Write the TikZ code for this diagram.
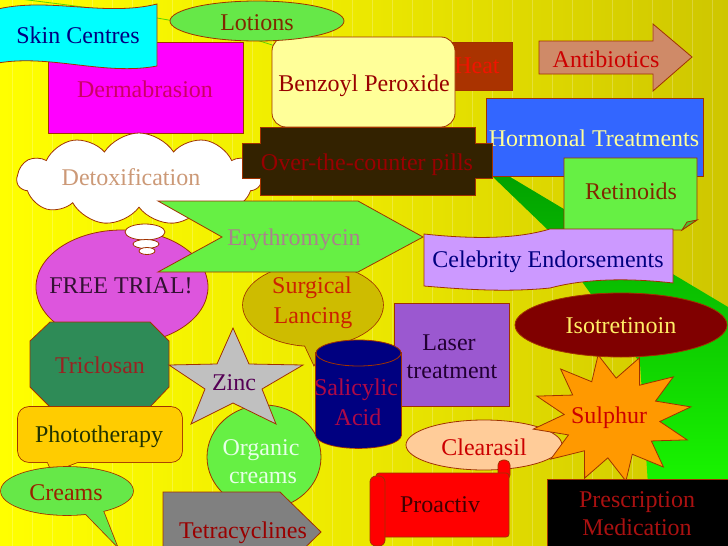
\documentclass[tikz,border=0pt]{standalone}
\usepackage{fontspec}
\setmainfont{Liberation Serif}
\usetikzlibrary{shapes.symbols}
\definecolor{bgl}{RGB}{255,255,0}
\definecolor{bgm}{RGB}{236,232,0}
\definecolor{bgr}{RGB}{206,198,0}
\definecolor{gdark}{RGB}{0,155,0}
\definecolor{gbright}{RGB}{25,245,0}
\definecolor{gline}{RGB}{90,215,0}
\definecolor{edge}{RGB}{160,50,0}
\definecolor{cCyan}{RGB}{0,255,255}
\definecolor{tSkin}{RGB}{0,0,128}
\definecolor{cMag}{RGB}{255,0,255}
\definecolor{tDerm}{RGB}{204,0,102}
\definecolor{cLot}{RGB}{102,232,72}
\definecolor{tBrown}{RGB}{128,40,0}
\definecolor{cHeat}{RGB}{170,51,0}
\definecolor{tHeat}{RGB}{240,20,0}
\definecolor{cBenz}{RGB}{255,255,153}
\definecolor{tDark}{RGB}{153,0,0}
\definecolor{cAnti}{RGB}{207,138,104}
\definecolor{tRed}{RGB}{204,0,0}
\definecolor{cHorm}{RGB}{51,102,255}
\definecolor{tPale}{RGB}{255,255,153}
\definecolor{cOtc}{RGB}{51,34,0}
\definecolor{cGreen}{RGB}{102,240,68}
\definecolor{cFold}{RGB}{80,190,50}
\definecolor{tDetox}{RGB}{204,153,119}
\definecolor{tEry}{RGB}{170,130,140}
\definecolor{cCeleb}{RGB}{204,153,255}
\definecolor{cFree}{RGB}{221,85,221}
\definecolor{tFree}{RGB}{51,17,51}
\definecolor{cLan}{RGB}{206,188,0}
\definecolor{tLan}{RGB}{204,34,0}
\definecolor{cLaser}{RGB}{155,88,208}
\definecolor{tLaser}{RGB}{34,0,51}
\definecolor{cIso}{RGB}{128,0,0}
\definecolor{tIso}{RGB}{255,238,102}
\definecolor{cTri}{RGB}{46,139,87}
\definecolor{tTri}{RGB}{153,34,34}
\definecolor{cZinc}{RGB}{192,192,192}
\definecolor{tZinc}{RGB}{85,0,85}
\definecolor{cSal}{RGB}{0,0,128}
\definecolor{tSal}{RGB}{175,10,70}
\definecolor{cPhoto}{RGB}{255,204,0}
\definecolor{tPhoto}{RGB}{34,51,0}
\definecolor{tCream}{RGB}{153,34,0}
\definecolor{tOrg}{RGB}{230,255,230}
\definecolor{cTetra}{RGB}{128,128,128}
\definecolor{cClear}{RGB}{255,204,153}
\definecolor{cPro}{RGB}{255,0,0}
\definecolor{tPro}{RGB}{64,0,0}
\definecolor{cSul}{RGB}{255,153,0}
\definecolor{tPres}{RGB}{170,17,17}
\begin{document}
\begin{tikzpicture}[x=1pt,y=-1pt,
  lbl/.style={font=\fontsize{24}{28}\selectfont, inner sep=0pt, anchor=base},
  shp/.style={draw=edge, line width=0.8pt},
  uline/.style={draw=edge, line width=1.6pt}]
\useasboundingbox (0,0) rectangle (728,546);
\clip (0,0) rectangle (728,546);
% background
\shade[left color=bgl, right color=bgr, middle color=bgm] (0,0) rectangle (728,546);
\foreach \i in {12,32,...,720} \draw[white, opacity=0.22, line width=0.6pt] (\i,0) -- (\i,546);
% green band
\shade[top color=gdark, bottom color=gbright] (465,150) -- (728,307) -- (728,485) -- (648,485) -- (640,363) -- (583,283) -- (548,230) -- cycle;
\draw[gline, line width=0.8pt] (20,-1) .. controls (90,8) and (200,20) .. (275,46);
% Dermabrasion
\filldraw[shp, fill=cMag] (48,42) rectangle (243,133);
\node[lbl, text=tDerm] (derm) at (145,97) {Dermabrasion};
% Skin Centres
\filldraw[shp, fill=cCyan] (-2,9) .. controls (50,-3) and (105,17) .. (157,4) -- (157,66) .. controls (105,76) and (50,54) .. (-2,63) -- cycle;
\node[lbl, text=tSkin] (skin) at (78,43) {Skin Centres};
% Heat
\filldraw[shp, fill=cHeat] (440,42) rectangle (512,90);
\node[lbl, text=tHeat] (heat) at (477,73) {Heat};
% Benzoyl Peroxide
\filldraw[shp, fill=cBenz, rounded corners=14pt] (272,37) rectangle (455,127);
\node[lbl, text=tDark] (benz) at (364,91) {Benzoyl Peroxide};
% Lotions
\filldraw[shp, fill=cLot] (257,21) ellipse [x radius=87, y radius=20];
\node[lbl, text=tBrown] (lot) at (257,30) {Lotions};
% Antibiotics
\filldraw[shp, fill=cAnti] (539,41) -- (653,41) -- (653,24) -- (692,57) -- (653,91) -- (653,74) -- (539,74) -- cycle;
\node[lbl, text=tRed] (anti) at (606,67) {Antibiotics};
% Hormonal
\filldraw[shp, fill=cHorm] (486,98) rectangle (703,176);
\node[lbl, text=tPale] (horm) at (594,146) {Hormonal Treatments};
% Retinoids
\filldraw[shp, fill=cGreen] (564,158) -- (697,158) -- (697,220) -- (682,230) -- (564,230) -- cycle;
\filldraw[shp, fill=cFold] (682,230) -- (687,222) -- (697,220) -- cycle;
\node[lbl, text=tBrown] (ret) at (631,199) {Retinoids};
% FREE TRIAL
\filldraw[shp, fill=cFree] (122,287) ellipse [x radius=86, y radius=57];
\node[lbl, text=tFree] (free) at (121,293) {FREE TRIAL!};
% Surgical Lancing
\draw[uline] (313,305) ellipse [x radius=70, y radius=41];
\draw[uline] (300,335) -- (314,365) -- (330,335) -- cycle;
\fill[cLan] (313,305) ellipse [x radius=70, y radius=41];
\fill[cLan] (300,335) -- (314,365) -- (330,335) -- cycle;
\node[lbl, text=tLan] (lan1) at (312,293) {Surgical};
\node[lbl, text=tLan] (lan2) at (313,323) {Lancing};
% Detoxification cloud
\node[cloud, cloud puffs=11, cloud puff arc=115, draw=edge, line width=0.8pt, fill=white, minimum width=244pt, minimum height=92pt, inner sep=0pt] (detox) at (139,179) {};
\filldraw[shp, fill=white] (145,232) ellipse [x radius=20, y radius=8];
\filldraw[shp, fill=white] (146,244) ellipse [x radius=13, y radius=4.5];
\filldraw[shp, fill=white] (147,251) ellipse [x radius=8, y radius=3.5];
\node[lbl, text=tDetox] (detoxt) at (131,185) {Detoxification};
% Over-the-counter pills
\filldraw[shp, fill=cOtc] (260,127) -- (475,127) -- (475,143) -- (492,143) -- (492,178) -- (475,178) -- (475,195) -- (260,195) -- (260,178) -- (242,178) -- (242,143) -- (260,143) -- cycle;
\node[lbl, text=tDark] (otc) at (367,170) {Over-the-counter pills};
% Erythromycin
\filldraw[shp, fill=cGreen] (158,201) -- (358,201) -- (423,237) -- (358,272) -- (158,272) -- (222,237) -- cycle;
\node[lbl, text=tEry] (ery) at (294,245) {Erythromycin};
% Celebrity Endorsements
\filldraw[shp, fill=cCeleb] (424,234) .. controls (480,240) and (520,238) .. (550,229) -- (673,229) -- (673,283) .. controls (620,277) and (580,280) .. (550,288) .. controls (510,292) and (470,290) .. (424,286) -- cycle;
\node[lbl, text=tSkin] (celeb) at (548,267) {Celebrity Endorsements};
% Laser treatment
\filldraw[shp, fill=cLaser] (394,303) rectangle (509,406);
\node[lbl, text=tLaser] (las1) at (449,350) {Laser};
\node[lbl, text=tLaser] (las2) at (452,378) {treatment};
% Triclosan
\filldraw[shp, fill=cTri] (50,322) -- (150,322) -- (169,341) -- (169,387) -- (150,407) -- (50,407) -- (30,387) -- (30,341) -- cycle;
\node[lbl, text=tTri] (tri) at (100,373) {Triclosan};
% Organic creams
\filldraw[shp, fill=cGreen] (264,457) ellipse [x radius=57, y radius=52];
\node[lbl, text=tOrg] (org1) at (261,455) {Organic};
\node[lbl, text=tOrg] (org2) at (263,483) {creams};
% Zinc
\filldraw[shp, fill=cZinc] (233,328) -- (249,364) -- (303,365) -- (262,389) -- (276,424) -- (233,403) -- (191,424) -- (205,389) -- (169,365) -- (217,364) -- cycle;
\node[lbl, text=tZinc] (zinc) at (234,390) {Zinc};
% Salicylic Acid
\draw[uline] (316,353) rectangle (401,435);
\draw[uline] (358.5,435) ellipse [x radius=42.5, y radius=13];
\fill[cSal] (316,353) rectangle (401,435);
\fill[cSal] (358.5,435) ellipse [x radius=42.5, y radius=13];
\filldraw[shp, fill=cSal] (358.5,353) ellipse [x radius=42.5, y radius=13];
\node[lbl, text=tSal] (sal1) at (356,395) {Salicylic};
\node[lbl, text=tSal] (sal2) at (358,425) {Acid};
% Phototherapy
\draw[uline, rounded corners=11pt] (18,407) rectangle (182,462);
\draw[uline] (46,458) -- (52,472) -- (88,458) -- cycle;
\fill[cPhoto, rounded corners=11pt] (18,407) rectangle (182,462);
\fill[cPhoto] (46,458) -- (52,472) -- (88,458) -- cycle;
\node[lbl, text=tPhoto] (photo) at (99,442) {Phototherapy};
% Creams
\draw[uline] (67,491) ellipse [x radius=66, y radius=24];
\draw[uline] (80,508) -- (117,546) -- (102,508) -- cycle;
\fill[cLot] (67,491) ellipse [x radius=66, y radius=24];
\fill[cLot] (80,508) -- (117,546) -- (102,508) -- cycle;
\node[lbl, text=tCream] (creams) at (66,500) {Creams};
% Tetracyclines
\filldraw[shp, fill=cTetra] (163,492) -- (280,492) -- (321,532) -- (280,572) -- (163,572) -- cycle;
\node[lbl, text=tDark] (tetra) at (243,538) {Tetracyclines};
% Clearasil
\filldraw[shp, fill=cClear] (484,445) ellipse [x radius=78, y radius=25];
\node[lbl, text=tRed] (clear) at (484,455) {Clearasil};
% Sulphur
\filldraw[shp, fill=cSul] plot[samples at={0,...,23}] ({612+(64+16*cos(180*\x))*cos(10+15*\x)}, {418-(52+12*cos(180*\x))*sin(10+15*\x)}) -- cycle;
\node[lbl, text=tRed] (sul) at (609,423) {Sulphur};
% Isotretinoin
\filldraw[shp, fill=cIso] (621,325) ellipse [x radius=106, y radius=32];
\node[lbl, text=tIso] (iso) at (621,333) {Isotretinoin};
% Proactiv
\filldraw[shp, fill=cPro, rounded corners=5pt] (498,460) rectangle (510,480);
\filldraw[shp, fill=cPro, rounded corners=3pt] (376,473) rectangle (509,537);
\filldraw[shp, fill=cPro, rounded corners=6pt] (370,476) rectangle (385,546);
\node[lbl, text=tPro] (pro) at (440,512) {Proactiv};
% Prescription Medication
\filldraw[shp, fill=black] (547,479) rectangle (740,560);
\node[lbl, text=tPres] (pres1) at (637,507) {Prescription};
\node[lbl, text=tPres] (pres2) at (637,535) {Medication};
\end{tikzpicture}
\end{document}
